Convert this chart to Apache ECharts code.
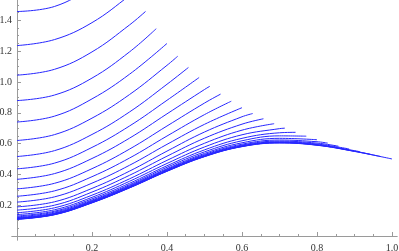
<!DOCTYPE html>
<html><head><meta charset="utf-8">
<script src="https://cdn.jsdelivr.net/npm/echarts@6/dist/echarts.min.js"></script>
<style>html,body{margin:0;padding:0;background:#fff}#c{width:399px;height:251px}</style>
</head><body><div id="c"></div>
<script>
// shared sample grid (x) and the x where each curve ends
const xGrid = [0, 0.1, 0.2, 0.3, 0.4, 0.5, 0.6, 0.7, 0.8, 0.9, 1.0];
const xEnds = [0.2857, 0.3143, 0.3429, 0.3714, 0.4, 0.4286, 0.4571, 0.4857, 0.5143, 0.5429,
               0.5714, 0.6, 0.6286, 0.6571, 0.6857, 0.7143, 0.7429, 0.7714, 0.8, 0.8286,
               0.8571, 0.8857, 0.9143, 0.9429, 0.9714, 1.0];
// y values at the grid points below the end, then the value at the end
const curve01 = [1.457, 1.490, 1.614, 1.750];
const curve02 = [1.236, 1.275, 1.385, 1.560, 1.591];
const curve03 = [1.044, 1.082, 1.195, 1.370, 1.458];
const curve04 = [0.879, 0.915, 1.025, 1.195, 1.346];
const curve05 = [0.740, 0.778, 0.890, 1.050, 1.250];
const curve06 = [0.620, 0.658, 0.765, 0.918, 1.108, 1.167];
const curve07 = [0.516, 0.554, 0.659, 0.805, 0.985, 1.094];
const curve08 = [0.436, 0.473, 0.575, 0.714, 0.881, 1.029];
const curve09 = [0.368, 0.405, 0.503, 0.635, 0.793, 0.951, 0.972];
const curve10 = [0.306, 0.342, 0.437, 0.564, 0.714, 0.863, 0.921];
const curve11 = [0.258, 0.293, 0.385, 0.506, 0.649, 0.788, 0.875];
const curve12 = [0.220, 0.254, 0.343, 0.459, 0.595, 0.725, 0.833];
const curve13 = [0.189, 0.222, 0.309, 0.421, 0.551, 0.675, 0.774, 0.795];
const curve14 = [0.168, 0.200, 0.285, 0.394, 0.518, 0.635, 0.726, 0.761];
const curve15 = [0.151, 0.183, 0.265, 0.371, 0.491, 0.602, 0.687, 0.729];
const curve16 = [0.139, 0.170, 0.251, 0.355, 0.471, 0.578, 0.657, 0.697, 0.700];
const curve17 = [0.130, 0.161, 0.241, 0.342, 0.456, 0.559, 0.634, 0.670, 0.673];
const curve18 = [0.124, 0.155, 0.233, 0.333, 0.446, 0.546, 0.618, 0.650, 0.648];
const curve19 = [0.119, 0.149, 0.228, 0.327, 0.437, 0.536, 0.605, 0.634, 0.625];
const curve20 = [0.116, 0.146, 0.224, 0.322, 0.432, 0.529, 0.596, 0.623, 0.612, 0.603];
const curve21 = [0.114, 0.144, 0.222, 0.319, 0.428, 0.524, 0.590, 0.616, 0.603, 0.583];
const curve22 = [0.112, 0.142, 0.219, 0.317, 0.425, 0.521, 0.586, 0.611, 0.597, 0.565];
const curve23 = [0.111, 0.141, 0.218, 0.315, 0.424, 0.519, 0.584, 0.608, 0.593, 0.554, 0.547];
const curve24 = [0.110, 0.140, 0.217, 0.314, 0.422, 0.517, 0.582, 0.606, 0.591, 0.551, 0.530];
const curve25 = [0.109, 0.139, 0.216, 0.313, 0.421, 0.516, 0.581, 0.605, 0.590, 0.550, 0.515];
const curve26 = [0.108, 0.138, 0.215, 0.312, 0.420, 0.515, 0.580, 0.604, 0.589, 0.549, 0.500];

const xMajorTicks = [0.2, 0.4, 0.6, 0.8, 1.0];
const xMinorTicks = [0.05, 0.1, 0.15, 0.25, 0.3, 0.35, 0.45, 0.5, 0.55, 0.65, 0.7, 0.75, 0.85, 0.9, 0.95];
const yMajorTicks = [0.2, 0.4, 0.6, 0.8, 1.0, 1.2, 1.4];
const yMinorTicks = [0.05, 0.1, 0.15, 0.25, 0.3, 0.35, 0.45, 0.5, 0.55, 0.65, 0.7, 0.75, 0.85, 0.9, 0.95,
                     1.05, 1.1, 1.15, 1.25, 1.3, 1.35, 1.45, 1.5];

const curves = [curve01, curve02, curve03, curve04, curve05, curve06, curve07, curve08, curve09, curve10,
                curve11, curve12, curve13, curve14, curve15, curve16, curve17, curve18, curve19, curve20,
                curve21, curve22, curve23, curve24, curve25, curve26];

const series = curves.map((ys, i) => {
  const t = xEnds[i];
  const xs = xGrid.filter(x => x < t - 1e-9);
  xs.push(t);
  return {
    type: 'line', xAxisIndex: 0, yAxisIndex: 0,
    data: xs.map((x, j) => [x, ys[j]]),
    showSymbol: false, smooth: 0.4, clip: true,
    lineStyle: { color: '#2626ff', width: 1 }, silent: true
  };
});

const axisColor = '#9a9a9a';
const labelStyle = { fontFamily: 'Liberation Serif', fontSize: 10, color: '#333' };
const X_MIN = -0.0133, X_MAX = 1.0133, Y_MIN = -0.026, Y_MAX = 1.532;

const chart = echarts.init(document.getElementById('c'), null, { renderer: 'canvas' });
chart.setOption({
  animation: false,
  grid: { left: 12, top: 0, width: 385, height: 240, outerBoundsMode: 'none', containLabel: false },
  xAxis: [
    { type: 'value', min: X_MIN, max: X_MAX,
      axisLine: { onZero: true, onZeroAxisIndex: 0, lineStyle: { color: axisColor, width: 1 } },
      axisTick: { inside: true, length: 4, customValues: xMajorTicks, lineStyle: { color: axisColor } },
      axisLabel: Object.assign({ customValues: xMajorTicks, margin: 3, formatter: v => v.toFixed(1) }, labelStyle),
      splitLine: { show: false } },
    { type: 'value', min: X_MIN, max: X_MAX, position: 'bottom',
      axisLine: { onZero: true, onZeroAxisIndex: 1, lineStyle: { color: axisColor, width: 1 } },
      axisTick: { inside: true, length: 2, customValues: xMinorTicks, lineStyle: { color: axisColor } },
      axisLabel: { show: false }, splitLine: { show: false } }
  ],
  yAxis: [
    { type: 'value', min: Y_MIN, max: Y_MAX,
      axisLine: { onZero: true, onZeroAxisIndex: 0, lineStyle: { color: axisColor, width: 1 } },
      axisTick: { inside: true, length: 4, customValues: yMajorTicks, lineStyle: { color: axisColor } },
      axisLabel: Object.assign({ customValues: yMajorTicks, margin: 0, formatter: v => v.toFixed(1) }, labelStyle),
      splitLine: { show: false } },
    { type: 'value', min: Y_MIN, max: Y_MAX, position: 'left',
      axisLine: { onZero: true, onZeroAxisIndex: 1, lineStyle: { color: axisColor, width: 1 } },
      axisTick: { inside: true, length: 2, customValues: yMinorTicks, lineStyle: { color: axisColor } },
      axisLabel: { show: false }, splitLine: { show: false } }
  ],
  series: series
});
</script></body></html>
